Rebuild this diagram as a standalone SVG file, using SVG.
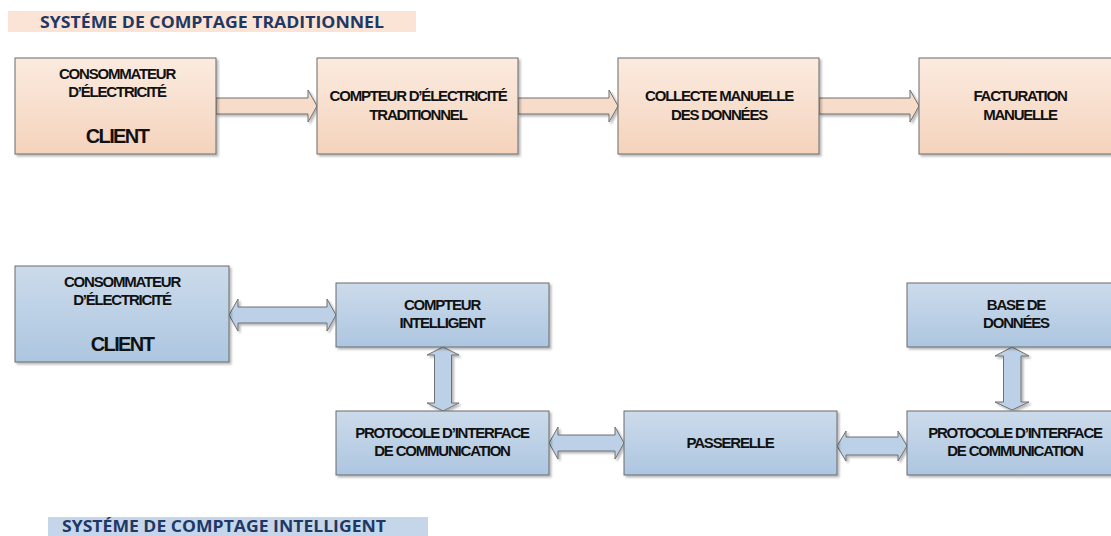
<svg xmlns="http://www.w3.org/2000/svg" width="1111" height="536" viewBox="0 0 1111 536">
  <defs>
    <linearGradient id="peach" x1="0" y1="0" x2="0" y2="1">
      <stop offset="0" stop-color="#fbebe0"/>
      <stop offset="1" stop-color="#f4d3bc"/>
    </linearGradient>
    <linearGradient id="blue" x1="0" y1="0" x2="0" y2="1">
      <stop offset="0" stop-color="#ccdbeb"/>
      <stop offset="1" stop-color="#adc6e0"/>
    </linearGradient>
    <filter id="shadow" x="-10%" y="-10%" width="130%" height="140%">
      <feDropShadow dx="2" dy="2" stdDeviation="1.2" flood-color="#000" flood-opacity="0.28"/>
    </filter>
  </defs>
  <style>
    .box { stroke: #6b6b6b; stroke-width: 1; filter: url(#shadow); }
    .trad { fill: url(#peach); }
    .smart { fill: url(#blue); }
    .arrow { stroke: #6f6f6f; stroke-width: 1; stroke-linejoin: miter; filter: url(#shadow); }
    .arrow.trad { fill: #f7dcc9; }
    .arrow.smart { fill: #bcd1e7; }
    .lbl { font-family: "Liberation Sans", Arial, sans-serif; font-weight: bold; font-size: 15px; letter-spacing: -1.2px; fill: #111; text-anchor: middle; }
    .big { font-size: 20px; letter-spacing: -1.6px; }
    .title { font-family: "Open Sans", "Liberation Sans", sans-serif; font-weight: bold; font-size: 16px; fill: #1f3864; }
  </style>

  <!-- section headings -->
  <g id="title-traditional">
    <rect x="8" y="11" width="408" height="21" fill="#fbe4d5"/>
    <text class="title" x="40" y="27.5" textLength="344" lengthAdjust="spacingAndGlyphs">SYSTÉME DE COMPTAGE TRADITIONNEL</text>
  </g>
  <g id="title-smart">
    <rect x="48" y="517" width="380" height="19" fill="#c5d6ea"/>
    <text class="title" x="62" y="532" textLength="324" lengthAdjust="spacingAndGlyphs">SYSTÉME DE COMPTAGE INTELLIGENT</text>
  </g>

  <!-- connectors -->
  <g id="connectors">
    <!-- traditional chain: one-way block arrows -->
    <path class="arrow trad" d="M216,98 H308 V90 L317,106 L308,122 V114 H216 Z"/>
    <path class="arrow trad" d="M518,98 H609 V90 L618,106 L609,122 V114 H518 Z"/>
    <path class="arrow trad" d="M819,98 H910 V90 L919,106 L910,122 V114 H819 Z"/>
    <!-- smart chain: two-way block arrows -->
    <path class="arrow smart" d="M229,315 L238,299 V307 H327 V299 L336,315 L327,331 V323 H238 V331 Z"/>
    <path class="arrow smart" d="M443,347 L459,355 H451.5 V403 H459 L443,411 L427,403 H434.5 V355 H427 Z"/>
    <path class="arrow smart" d="M549,443 L558,427 V435 H615 V427 L624,443 L615,459 V451 H558 V459 Z"/>
    <path class="arrow smart" d="M837,446 L846,431 V437 H898 V431 L907,446 L898,461 V455 H846 V461 Z"/>
    <path class="arrow smart" d="M1012,347 L1029,356 H1021 V402 H1029 L1012,410 L995,402 H1003.5 V356 H995 Z"/>
  </g>

  <!-- traditional metering nodes -->
  <g id="trad-client">
    <rect class="box trad" x="15" y="58" width="201" height="96"/>
    <text class="lbl" x="117" y="78.5">CONSOMMATEUR</text>
    <text class="lbl" x="117" y="97">D’ÉLECTRICITÉ</text>
    <text class="lbl big" x="117" y="143">CLIENT</text>
  </g>
  <g id="trad-meter">
    <rect class="box trad" x="317" y="58" width="201" height="96"/>
    <text class="lbl" x="418" y="101">COMPTEUR D’ÉLECTRICITÉ</text>
    <text class="lbl" x="418" y="120">TRADITIONNEL</text>
  </g>
  <g id="trad-collect">
    <rect class="box trad" x="618" y="58" width="201" height="96"/>
    <text class="lbl" x="719" y="101">COLLECTE MANUELLE</text>
    <text class="lbl" x="719" y="120">DES DONNÉES</text>
  </g>
  <g id="trad-billing">
    <rect class="box trad" x="919" y="58" width="201" height="96"/>
    <text class="lbl" x="1020" y="101">FACTURATION</text>
    <text class="lbl" x="1020" y="120">MANUELLE</text>
  </g>

  <!-- smart metering nodes -->
  <g id="smart-client">
    <rect class="box smart" x="15" y="266" width="214" height="96"/>
    <text class="lbl" x="122" y="286.5">CONSOMMATEUR</text>
    <text class="lbl" x="122" y="305">D’ÉLECTRICITÉ</text>
    <text class="lbl big" x="122" y="351">CLIENT</text>
  </g>
  <g id="smart-meter">
    <rect class="box smart" x="336" y="283" width="213" height="64"/>
    <text class="lbl" x="442" y="310">COMPTEUR</text>
    <text class="lbl" x="442" y="328">INTELLIGENT</text>
  </g>
  <g id="smart-protocol-1">
    <rect class="box smart" x="336" y="411" width="213" height="64"/>
    <text class="lbl" x="442" y="437.5">PROTOCOLE D’INTERFACE</text>
    <text class="lbl" x="442" y="455.5">DE COMMUNICATION</text>
  </g>
  <g id="smart-gateway">
    <rect class="box smart" x="624" y="411" width="213" height="64"/>
    <text class="lbl" x="730" y="448">PASSERELLE</text>
  </g>
  <g id="smart-protocol-2">
    <rect class="box smart" x="907" y="411" width="214" height="64"/>
    <text class="lbl" x="1015" y="437.5">PROTOCOLE D’INTERFACE</text>
    <text class="lbl" x="1015" y="455.5">DE COMMUNICATION</text>
  </g>
  <g id="smart-database">
    <rect class="box smart" x="907" y="283" width="214" height="64"/>
    <text class="lbl" x="1016" y="310">BASE DE</text>
    <text class="lbl" x="1016" y="328">DONNÉES</text>
  </g>
</svg>
